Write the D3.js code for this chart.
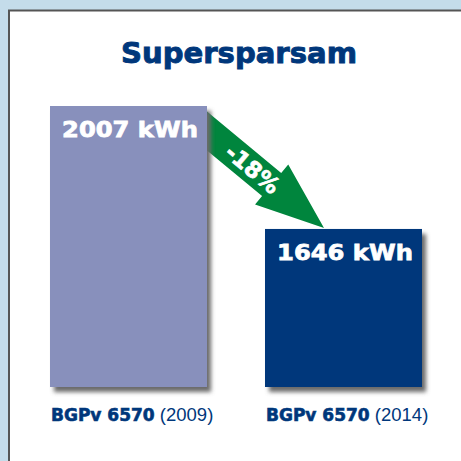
<!DOCTYPE html>
<html><head><meta charset="utf-8">
<script src="https://cdn.jsdelivr.net/npm/d3@7"></script>
<style>html,body{margin:0;padding:0;background:#c4dcea;}svg{display:block;}</style>
</head><body>
<script>
const title = "Supersparsam";
const ids = ["a", "b"];
const models = ["BGPv 6570", "BGPv 6570"];
const years = ["(2009)", "(2014)"];
const values = [2007, 1646];
const unit = "kWh";
const changeLabel = "-18%";
const colors = ["#8890bc", "#00377b"];

const W = 461, H = 461;
const svg = d3.select("body").append("svg").attr("width", W).attr("height", H);
const defs = svg.append("defs");
const f = defs.append("filter").attr("id", "sh").attr("x", "-20%").attr("y", "-20%").attr("width", "150%").attr("height", "150%");
f.append("feGaussianBlur").attr("stdDeviation", 2.2);

// panel
svg.append("rect").attr("x", 0).attr("y", 0).attr("width", W).attr("height", H).attr("fill", "#c4dcea");
svg.append("rect").attr("x", 9).attr("y", 10.5).attr("width", W).attr("height", H).attr("fill", "#fff")
  .attr("stroke", "#555").attr("stroke-width", 2);

const x = d3.scaleBand().domain(ids).range([50, 422]).paddingInner(58 / 215).paddingOuter(0);
const y = d3.scaleLinear().domain([1182, 2007]).range([387, 106]);
const navy = "#00377b";

svg.append("text").attr("x", 239).attr("y", 63).attr("text-anchor", "middle")
  .attr("font-family", "DejaVu Sans").attr("font-weight", "bold").attr("font-size", 29)
  .attr("textLength", 236).attr("lengthAdjust", "spacingAndGlyphs")
  .attr("stroke", navy).attr("stroke-width", 0.9)
  .attr("fill", navy).text(title);

// arrow
const x1 = x("a") + x.bandwidth(), yA = y(values[0]) + 25;
const tip = [x("b") + 59, y(values[1]) - 1];
const start = [x1 - 20, yA - (tip[1] - yA) * 20 / (tip[0] - x1)];
const dx = tip[0] - start[0], dy = tip[1] - start[1];
const L = Math.hypot(dx, dy), ang = Math.atan2(dy, dx) * 180 / Math.PI;
const sw = 15, hw = 26, hl = 68;
defs.append("clipPath").attr("id", "ac").append("rect").attr("x", x1).attr("y", 0).attr("width", W).attr("height", H);
const g = svg.append("g").attr("clip-path", "url(#ac)").append("g")
  .attr("transform", `translate(${start[0]},${start[1]}) rotate(${ang})`);
g.append("path").attr("d", `M0,${-sw}L${L - hl},${-sw}L${L - hl},${-hw}L${L},0L${L - hl},${hw}L${L - hl},${sw}L0,${sw}Z`)
  .attr("fill", "#00853d");
const tx = x1 + (tip[0] - x1) * 0.39, ty = yA + (tip[1] - yA) * 0.39;
svg.append("text").attr("transform", `translate(${tx},${ty}) rotate(${ang})`)
  .attr("text-anchor", "middle").attr("dy", "0.36em")
  .attr("font-family", "DejaVu Sans").attr("font-weight", "bold").attr("font-size", 22.5)
  .attr("stroke", "#fff").attr("stroke-width", 0.7)
  .attr("fill", "#fff").text(changeLabel);

const data = ids.map((id, i) => ({id, v: values[i], c: colors[i], m: models[i], yr: years[i]}));
// shadows
svg.selectAll("rect.sh").data(data).join("rect").attr("class", "sh")
  .attr("x", d => x(d.id) + 4).attr("y", d => y(d.v) + 5)
  .attr("width", x.bandwidth()).attr("height", d => y.range()[0] - y(d.v))
  .attr("fill", "#6a6a6a").attr("filter", "url(#sh)");
svg.selectAll("rect.bar").data(data).join("rect").attr("class", "bar")
  .attr("x", d => x(d.id)).attr("y", d => y(d.v))
  .attr("width", x.bandwidth()).attr("height", d => y.range()[0] - y(d.v))
  .attr("fill", d => d.c);
svg.selectAll("text.val").data(data).join("text").attr("class", "val")
  .attr("x", d => x(d.id) + x.bandwidth() / 2 + 1.5).attr("y", d => y(d.v) + 31)
  .attr("text-anchor", "middle")
  .attr("font-family", "DejaVu Sans").attr("font-weight", "bold").attr("font-size", 22)
  .attr("stroke", "#fff").attr("stroke-width", 0.8)
  .attr("fill", "#fff").text(d => d.v + " " + unit)
  .each(function () {
    const w = this.getComputedTextLength();
    d3.select(this).attr("textLength", w * 1.1).attr("lengthAdjust", "spacingAndGlyphs");
  });

const lab = svg.selectAll("text.cat").data(data).join("text").attr("class", "cat")
  .attr("x", d => x(d.id) + 1).attr("y", 421).attr("fill", navy);
lab.append("tspan").attr("font-family", "DejaVu Sans").attr("font-weight", "bold").attr("font-size", 17)
  .attr("stroke", navy).attr("stroke-width", 0.6)
  .text(d => d.m);
lab.append("tspan").attr("font-family", "Liberation Sans Narrow, Liberation Sans").attr("font-size", 18.5)
  .text(d => " " + d.yr);
</script>
</body></html>
